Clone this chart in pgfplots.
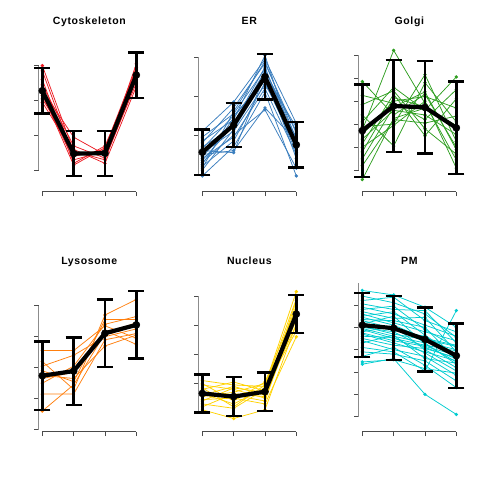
\documentclass[border=0pt]{standalone}
\usepackage{fontspec}
\setmainfont{Liberation Sans}
\newfontfamily\titlefont{Liberation Sans}[LetterSpace=6]
\usepackage{pgfplots}
\pgfplotsset{compat=1.18}
\definecolor{cRed}{RGB}{236,28,36}
\definecolor{cBlue}{RGB}{58,126,190}
\definecolor{cGreen}{RGB}{46,158,32}
\definecolor{cOrange}{RGB}{255,127,14}
\definecolor{cYellow}{RGB}{255,210,0}
\definecolor{cCyan}{RGB}{0,204,208}
\pgfplotsset{
  panel/.style={scale only axis, width=101.5bp, height=146.67bp,
    xmin=0.88, xmax=4.12, anchor=south west, clip=false,
    axis x line*=bottom, axis y line*=left, axis line style={draw=none},
    xtick={1,2,3,4}, xticklabel=\empty, yticklabel=\empty,
    tick align=outside, major tick length=4.5bp,
    tick style={black!70, line width=0.6bp},
    title style={font=\titlefont\bfseries\fontsize{10.5bp}{12bp}\selectfont,
      anchor=base, at={(0.5,1)}, yshift=14.7bp}},
  top/.style={scale only axis, width=101.5bp, height=146.67bp,
    xmin=0.88, xmax=4.12, anchor=south west, clip=false, hide axis},
  ind/.style={line width=0.75bp, mark=*, mark size=1.3bp, mark options={solid}},
  meanline/.style={black, line width=4.2bp, mark=*, mark size=3.6bp,
    mark options={line width=0.4bp, fill=black},
    error bars/.cd, y dir=both, y explicit,
    error bar style={line width=2.4bp, black},
    error mark options={rotate=90, mark size=8bp, line width=2.4bp, black}},
}
\newcommand\pline[5]{\addplot[#1,ind] coordinates {(1,#2)(2,#3)(3,#4)(4,#5)};}
\newcommand\axlines[2]{%
  \draw[black!45, line width=0.8bp] (axis cs:0.88,0) -- (axis cs:0.88,#2);
  \draw[black!70, line width=0.8bp] (axis cs:1,#1) -- (axis cs:4,#1);}
\begin{document}
\begin{tikzpicture}
\useasboundingbox (0,0) rectangle (480bp,480bp);
% Cytoskeleton
\begin{axis}[panel, at={(38.57bp,288.33bp)}, ymin=-0.611, ymax=3.591, ytick={0,1,2,3}, title={Cytoskeleton}]
\axlines{-0.611}{3}
\pline{cRed}{3.00}{0.55}{0.30}{2.60}
\pline{cRed}{2.85}{0.40}{0.60}{2.90}
\pline{cRed}{2.60}{0.20}{0.70}{2.75}
\pline{cRed}{2.45}{0.70}{0.35}{2.50}
\pline{cRed}{2.30}{0.95}{0.45}{3.05}
\pline{cRed}{2.15}{0.30}{0.55}{2.65}
\pline{cRed}{2.05}{0.60}{0.20}{2.40}
\pline{cRed}{1.95}{0.50}{0.50}{2.85}
\pline{cRed}{2.20}{0.15}{0.65}{2.95}
\end{axis}
\begin{axis}[top, at={(38.57bp,288.33bp)}, ymin=-0.611, ymax=3.591]
\addplot[meanline] coordinates {(1,2.28) +- (0,0.65) (2,0.48) +- (0,0.645) (3,0.49) +- (0,0.645) (4,2.73) +- (0,0.65)};
\end{axis}
% ER
\begin{axis}[panel, at={(198.57bp,288.33bp)}, ymin=-0.454, ymax=3.316, ytick={0,1,2,3}, title={ER}]
\axlines{-0.454}{3}
\pline{cBlue}{1.10}{1.85}{2.95}{1.30}
\pline{cBlue}{0.95}{1.55}{2.70}{0.90}
\pline{cBlue}{0.85}{1.40}{3.05}{0.60}
\pline{cBlue}{0.80}{1.70}{2.85}{1.05}
\pline{cBlue}{0.70}{1.20}{2.60}{0.40}
\pline{cBlue}{0.65}{1.50}{2.40}{0.80}
\pline{cBlue}{0.60}{0.55}{2.55}{1.20}
\pline{cBlue}{0.55}{1.10}{2.30}{0.95}
\pline{cBlue}{0.50}{0.60}{1.70}{0.85}
\pline{cBlue}{0.45}{1.30}{2.75}{0.70}
\pline{cBlue}{0.40}{0.95}{2.20}{0.50}
\pline{cBlue}{0.35}{1.25}{2.65}{1.10}
\pline{cBlue}{0.30}{1.00}{1.65}{0.15}
\pline{cBlue}{0.25}{1.45}{2.50}{0.75}
\pline{cBlue}{0.20}{0.85}{2.35}{0.65}
\pline{cBlue}{0.15}{1.60}{2.90}{0.90}
\pline{cBlue}{0.10}{1.15}{2.45}{0.55}
\pline{cBlue}{-0.05}{0.70}{2.10}{-0.05}
\end{axis}
\begin{axis}[top, at={(198.57bp,288.33bp)}, ymin=-0.454, ymax=3.316]
\addplot[meanline] coordinates {(1,0.56) +- (0,0.58) (2,1.26) +- (0,0.57) (3,2.50) +- (0,0.58) (4,0.75) +- (0,0.58)};
\end{axis}
% Golgi
\begin{axis}[panel, at={(358.57bp,288.33bp)}, ymin=-0.925, ymax=5.433, ytick={0,1,2,3,4,5}, title={Golgi}]
\axlines{-0.925}{5}
\pline{cGreen}{3.85}{2.40}{3.30}{1.00}
\pline{cGreen}{3.25}{2.90}{2.20}{3.50}
\pline{cGreen}{2.85}{3.45}{1.80}{0.70}
\pline{cGreen}{2.40}{1.05}{3.80}{2.10}
\pline{cGreen}{2.10}{3.60}{2.60}{4.05}
\pline{cGreen}{1.90}{2.00}{4.15}{1.25}
\pline{cGreen}{1.75}{5.20}{2.90}{0.45}
\pline{cGreen}{1.55}{3.00}{3.20}{2.70}
\pline{cGreen}{1.35}{2.60}{2.40}{1.55}
\pline{cGreen}{1.15}{3.30}{1.50}{3.10}
\pline{cGreen}{1.00}{1.95}{3.00}{0.10}
\pline{cGreen}{0.80}{3.15}{2.75}{1.80}
\pline{cGreen}{0.50}{2.75}{3.40}{0.90}
\pline{cGreen}{0.20}{2.20}{2.05}{2.35}
\pline{cGreen}{-0.40}{2.25}{2.70}{1.95}
\end{axis}
\begin{axis}[top, at={(358.57bp,288.33bp)}, ymin=-0.925, ymax=5.433]
\addplot[meanline] coordinates {(1,1.72) +- (0,2.0) (2,2.79) +- (0,2.0) (3,2.73) +- (0,2.0) (4,1.84) +- (0,2.01)};
\end{axis}
% Lysosome
\begin{axis}[panel, at={(38.57bp,48.33bp)}, ymin=-0.065, ymax=4.667, ytick={0,1,2,3,4}, title={Lysosome}]
\axlines{-0.065}{4}
\pline{cOrange}{2.55}{2.55}{3.35}{2.95}
\pline{cOrange}{2.20}{1.30}{3.70}{4.20}
\pline{cOrange}{2.05}{2.40}{3.00}{3.25}
\pline{cOrange}{1.90}{1.55}{3.55}{3.55}
\pline{cOrange}{1.75}{1.65}{2.70}{3.05}
\pline{cOrange}{1.65}{1.85}{3.20}{2.75}
\pline{cOrange}{1.50}{2.05}{3.40}{3.65}
\pline{cOrange}{1.15}{1.15}{2.90}{3.10}
\pline{cOrange}{0.60}{1.45}{3.10}{3.45}
\end{axis}
\begin{axis}[top, at={(38.57bp,48.33bp)}, ymin=-0.065, ymax=4.667]
\addplot[meanline] coordinates {(1,1.74) +- (0,1.11) (2,1.89) +- (0,1.085) (3,3.11) +- (0,1.085) (4,3.38) +- (0,1.085)};
\end{axis}
% Nucleus
\begin{axis}[panel, at={(198.57bp,48.33bp)}, ymin=-0.651, ymax=4.377, ytick={0,1,2,3,4}, title={Nucleus}]
\axlines{-0.651}{4}
\pline{cYellow}{1.10}{0.95}{0.90}{3.90}
\pline{cYellow}{1.00}{0.40}{1.05}{3.60}
\pline{cYellow}{0.95}{0.80}{0.50}{3.20}
\pline{cYellow}{0.85}{0.20}{0.95}{4.15}
\pline{cYellow}{0.80}{1.05}{0.75}{3.00}
\pline{cYellow}{0.70}{0.60}{0.40}{3.45}
\pline{cYellow}{0.65}{0.30}{0.85}{2.80}
\pline{cYellow}{0.60}{0.90}{0.60}{3.70}
\pline{cYellow}{0.55}{0.70}{1.00}{3.35}
\pline{cYellow}{0.45}{0.50}{0.30}{2.60}
\pline{cYellow}{0.40}{0.85}{0.70}{3.50}
\pline{cYellow}{0.30}{0.15}{0.80}{3.25}
\pline{cYellow}{0.20}{0.65}{0.55}{3.85}
\pline{cYellow}{0.10}{-0.20}{0.10}{3.05}
\end{axis}
\begin{axis}[top, at={(198.57bp,48.33bp)}, ymin=-0.651, ymax=4.377]
\addplot[meanline] coordinates {(1,0.66) +- (0,0.655) (2,0.55) +- (0,0.67) (3,0.72) +- (0,0.66) (4,3.38) +- (0,0.65)};
\end{axis}
% PM
\begin{axis}[panel, at={(358.57bp,48.33bp)}, ymin=-0.672, ymax=5.896, ytick={0,1,2,3,4,5,6}, title={PM}]
\axlines{-0.672}{6}
\pline{cCyan}{5.65}{5.45}{4.90}{4.00}
\pline{cCyan}{5.40}{5.10}{4.60}{3.55}
\pline{cCyan}{5.20}{5.35}{4.30}{3.80}
\pline{cCyan}{5.05}{4.80}{4.75}{3.30}
\pline{cCyan}{4.90}{4.60}{4.10}{3.60}
\pline{cCyan}{4.80}{4.95}{3.90}{3.10}
\pline{cCyan}{4.70}{4.40}{4.45}{2.90}
\pline{cCyan}{4.60}{4.20}{3.80}{3.40}
\pline{cCyan}{4.50}{4.70}{3.65}{2.70}
\pline{cCyan}{4.45}{4.10}{3.50}{3.20}
\pline{cCyan}{4.35}{4.30}{4.00}{2.55}
\pline{cCyan}{4.30}{3.95}{3.35}{3.00}
\pline{cCyan}{4.20}{3.85}{3.60}{2.80}
\pline{cCyan}{4.15}{4.50}{3.25}{2.45}
\pline{cCyan}{4.05}{3.70}{3.45}{3.15}
\pline{cCyan}{4.00}{3.80}{3.10}{2.60}
\pline{cCyan}{3.95}{3.60}{3.30}{2.35}
\pline{cCyan}{3.90}{3.50}{3.20}{2.95}
\pline{cCyan}{3.80}{4.05}{3.00}{2.20}
\pline{cCyan}{3.75}{3.40}{3.15}{2.75}
\pline{cCyan}{3.70}{3.30}{2.90}{2.50}
\pline{cCyan}{3.60}{3.55}{2.85}{2.05}
\pline{cCyan}{3.50}{3.20}{3.05}{2.65}
\pline{cCyan}{3.40}{3.00}{2.70}{1.85}
\pline{cCyan}{3.30}{3.65}{2.60}{2.40}
\pline{cCyan}{3.10}{2.90}{2.05}{4.75}
\pline{cCyan}{2.90}{2.80}{2.50}{1.60}
\pline{cCyan}{2.70}{3.10}{2.30}{1.30}
\pline{cCyan}{2.45}{2.55}{2.15}{1.95}
\pline{cCyan}{2.35}{2.60}{1.00}{0.10}
\end{axis}
\begin{axis}[top, at={(358.57bp,48.33bp)}, ymin=-0.672, ymax=5.896]
\addplot[meanline] coordinates {(1,4.10) +- (0,1.43) (2,3.96) +- (0,1.43) (3,3.46) +- (0,1.43) (4,2.73) +- (0,1.44)};
\end{axis}
\end{tikzpicture}
\end{document}
